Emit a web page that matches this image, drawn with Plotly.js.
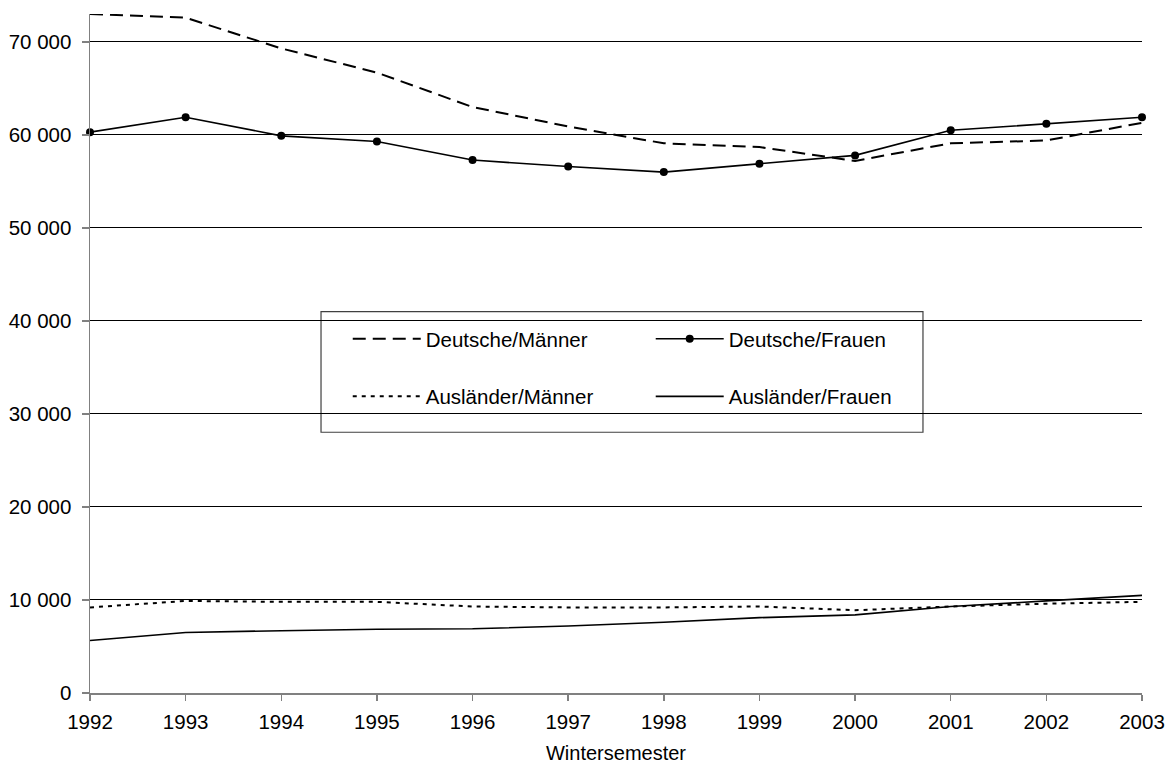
<!DOCTYPE html>
<html>
<head>
<meta charset="utf-8">
<script src="https://cdn.plot.ly/plotly-3.0.1.min.js"></script>
<style>
html,body{margin:0;padding:0;background:#fff;}
#chart{width:1175px;height:773px;}
</style>
</head>
<body>
<div id="chart"></div>
<script>
const years = [1992,1993,1994,1995,1996,1997,1998,1999,2000,2001,2002,2003];
const deutscheMaenner = [73000,72600,69300,66700,63000,60900,59100,58700,57200,59100,59400,61300];
const deutscheFrauen  = [60300,61900,59900,59300,57300,56600,56000,56900,57800,60500,61200,61900];
const auslaenderMaenner = [9200,9900,9800,9800,9300,9200,9200,9300,8900,9300,9600,9800];
const auslaenderFrauen  = [5650,6500,6700,6850,6900,7200,7600,8100,8400,9300,9900,10500];
const yTicks = [0,10000,20000,30000,40000,50000,60000,70000];
const xTitle = 'Wintersemester';
const names = ['Deutsche/Männer','Deutsche/Frauen','Ausländer/Männer','Ausländer/Frauen'];

const font = {family:'Liberation Sans, Arial, sans-serif', size:20.5, color:'#000'};

const traces = [
  {x:years, y:deutscheMaenner, name:names[0], mode:'lines', line:{color:'#000', width:2, dash:'13px,7px'}, legend:'legend', legendgroup:'a', cliponaxis:false},
  {x:years, y:auslaenderMaenner, name:names[2], mode:'lines', line:{color:'#000', width:2, dash:'4px,5px'}, legend:'legend', legendgroup:'b', cliponaxis:false},
  {x:years, y:deutscheFrauen, name:names[1], mode:'lines+markers', line:{color:'#000', width:1.6}, marker:{color:'#000', size:8}, legend:'legend2', legendgroup:'c', cliponaxis:false},
  {x:years, y:auslaenderFrauen, name:names[3], mode:'lines', line:{color:'#000', width:1.6}, legend:'legend2', legendgroup:'d', cliponaxis:false}
];

const legendCommon = {
  bgcolor:'rgba(0,0,0,0)', borderwidth:0, font:font,
  traceorder:'grouped', tracegroupgap:28, yanchor:'top', xanchor:'left', itemwidth:68
};

const layout = {
  width:1175, height:773,
  margin:{l:90, r:33, t:14, b:80},
  paper_bgcolor:'#fff', plot_bgcolor:'#fff',
  separators:', ',
  font:font,
  showlegend:true,
  xaxis:{
    range:[1992,2003], tickvals:years, ticktext:years.map(String),
    showgrid:false, zeroline:false, showline:true, linecolor:'#808080', linewidth:1.5,
    ticks:'outside', ticklen:6, tickcolor:'#808080', tickwidth:1.5,
    ticklabelstandoff:4,
    tickfont:font,
    title:{text:xTitle, font:{family:font.family, size:20, color:'#000'}, standoff:14}
  },
  yaxis:{
    range:[0,73000], tickvals:yTicks, tickformat:',d',
    showgrid:true, gridcolor:'#000', gridwidth:1,
    zeroline:false, showline:true, linecolor:'#808080', linewidth:1.5,
    ticks:'outside', ticklen:7, tickcolor:'#808080', tickwidth:1.5,
    ticklabelstandoff:6,
    tickfont:font
  },
  legend:Object.assign({}, legendCommon, {x:0.245, y:0.551}),
  legend2:Object.assign({}, legendCommon, {x:0.533, y:0.551}),
  shapes:[{
    type:'rect', xref:'paper', yref:'paper',
    x0:0.2196, x1:0.7918, y0:0.384, y1:0.5618,
    fillcolor:'#fff', line:{color:'#404040', width:1.2}, layer:'between'
  }]
};

Plotly.newPlot('chart', traces, layout, {displayModeBar:false, staticPlot:true});
</script>
</body>
</html>
